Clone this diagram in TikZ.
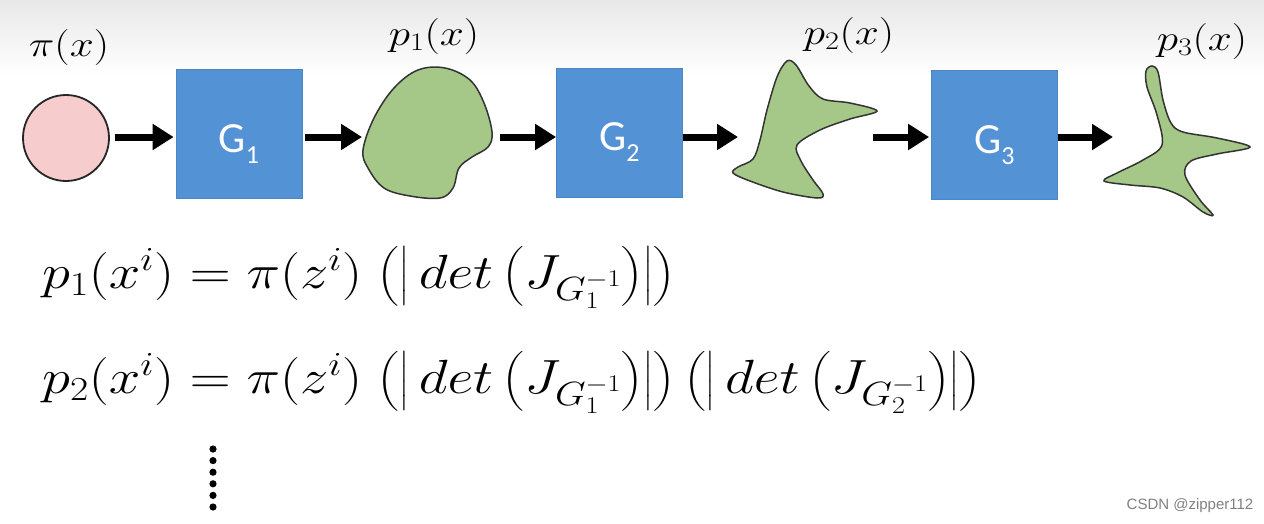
\RequirePackage{fix-cm}
\documentclass[tikz,border=0pt]{standalone}
\usepackage{amsmath}
\usepackage{fontspec}
\usetikzlibrary{arrows.meta}
\newfontfamily\gfont{Carlito}
\newfontfamily\wmfont{Liberation Sans}
\definecolor{pinkfill}{RGB}{246,204,204}
\definecolor{boxblue}{RGB}{84,146,214}
\definecolor{blobgreen}{RGB}{165,200,136}
\tikzset{
  arr/.style={line width=7pt, -{Triangle[length=21pt,width=25pt]}},
  gbox/.style={rectangle, fill=boxblue, draw=boxblue!92!black, line width=0.8pt,
    minimum width=126pt, minimum height=129pt, inner sep=0pt, text=white,
    text height=36pt, text depth=0pt, font=\gfont\fontsize{43}{48}\selectfont},
  blob/.style={fill=blobgreen, draw=black!80, line width=1.5pt},
  lbl/.style={font=\fontsize{36}{42}\selectfont, inner sep=0pt},
  eqn/.style={font=\fontsize{48}{56}\selectfont, inner sep=0pt, anchor=base west},
  dotmark/.style={fill=black},
}
\newcommand{\gsub}[1]{G\raisebox{-11pt}{\fontsize{26}{28}\selectfont #1}}
\newcommand{\wide}[1]{\scalebox{1.2}[1]{#1}}
\newcommand{\eqwide}[1]{\scalebox{1.18}[1]{#1}}
\begin{document}
\begin{tikzpicture}[x=1pt,y=1pt]
\useasboundingbox (0,0) rectangle (1264,-523);
\shade[top color=black!9, bottom color=white] (0,0) rectangle (1264,-75);

\coordinate (row) at (0,-137);

% source and generators
\node[circle, minimum size=86pt, inner sep=0pt, fill=pinkfill, draw=black!85, line width=1.8pt] (pi) at (66,-138) {};
\node[gbox] (G1) at (239,-134) {\gsub{1}};
\node[gbox] (G2) at (619.5,-132.5) {\gsub{2}};
\node[gbox] (G3) at (994.5,-135) {\gsub{3}};

% blob 1
\draw[blob] plot[smooth cycle, tension=0.6] coordinates {
 (363,-150) (374,-118) (394,-88) (418,-70) (445,-68) (470,-80) (484,-103)
 (492,-132) (488,-147) (472,-157) (459,-168) (453,-188) (440,-198)
 (410,-196) (384,-188) (368,-168)};
% blob 2
\draw[blob] plot[smooth cycle, tension=0.55] coordinates {
 (787,-61) (796,-65) (809,-86) (823,-99) (850,-103) (877,-111)
 (850,-119) (820,-130) (797,-145) (801,-161) (813,-180) (823,-194)
 (817,-198) (783,-192) (750,-181) (733,-173) (738,-167) (753,-159)
 (760,-140) (767,-110) (777,-77)};
% blob 3
\draw[blob] plot[smooth cycle, tension=0.55] coordinates {
 (1152,-66) (1158,-72) (1163,-100) (1171,-123) (1183,-132) (1217,-138)
 (1250,-147) (1217,-154) (1191,-161) (1185,-175) (1200,-200) (1213,-215)
 (1203,-212) (1183,-197) (1160,-188) (1130,-185) (1104,-181) (1117,-173)
 (1143,-160) (1162,-145) (1157,-115) (1147,-87) (1146,-71)};

% blob ports
\coordinate (b1in) at (362,-137);
\coordinate (b1out) at (500,-137);
\coordinate (b2in) at (738,-137);
\coordinate (b2out) at (873,-137);
\coordinate (b3in) at (1113,-137);

% connectors
\draw[arr, shorten <=5pt, shorten >=2pt] (pi.east |- row) -- (G1.west |- row);
\draw[arr, shorten <=3pt] (G1.east |- row) -- (b1in);
\draw[arr] (b1out) -- (G2.west |- row);
\draw[arr] (G2.east |- row) -- (b2in);
\draw[arr, shorten >=2pt] (b2out) -- (G3.west |- row);
\draw[arr] (G3.east |- row) -- (b3in);

% labels
\node[lbl] (lpi) at (69,-47) {\wide{$\pi(x)$}};
\node[lbl] (lp1) at (434,-36) {\wide{$p_1(x)$}};
\node[lbl] (lp2) at (849,-35) {\wide{$p_2(x)$}};
\node[lbl] (lp3) at (1202,-41) {\wide{$p_3(x)$}};

% equations
\node[eqn] (eq1) at (42,-288) {\eqwide{$p_1(x^i) = \pi(z^i)\;\bigl(\bigl|\,det\,\bigl(J_{G_1^{-1}}\bigr)\bigr|\bigr)$}};
\node[eqn] (eq2) at (42,-393) {\eqwide{$p_2(x^i) = \pi(z^i)\;\bigl(\bigl|\,det\,\bigl(J_{G_1^{-1}}\bigr)\bigr|\bigr)\,\bigl(\bigl|\,det\,\bigl(J_{G_2^{-1}}\bigr)\bigr|\bigr)$}};

% vertical dots
\foreach \k in {0,...,5} \fill[dotmark] (213,-449-11.6*\k) circle (3.6);

% watermark
\node[font=\wmfont\fontsize{15}{18}\selectfont, text=black!50, inner sep=0pt] (wm) at (1190,-506) {CSDN @zipper112};
\end{tikzpicture}
\end{document}
